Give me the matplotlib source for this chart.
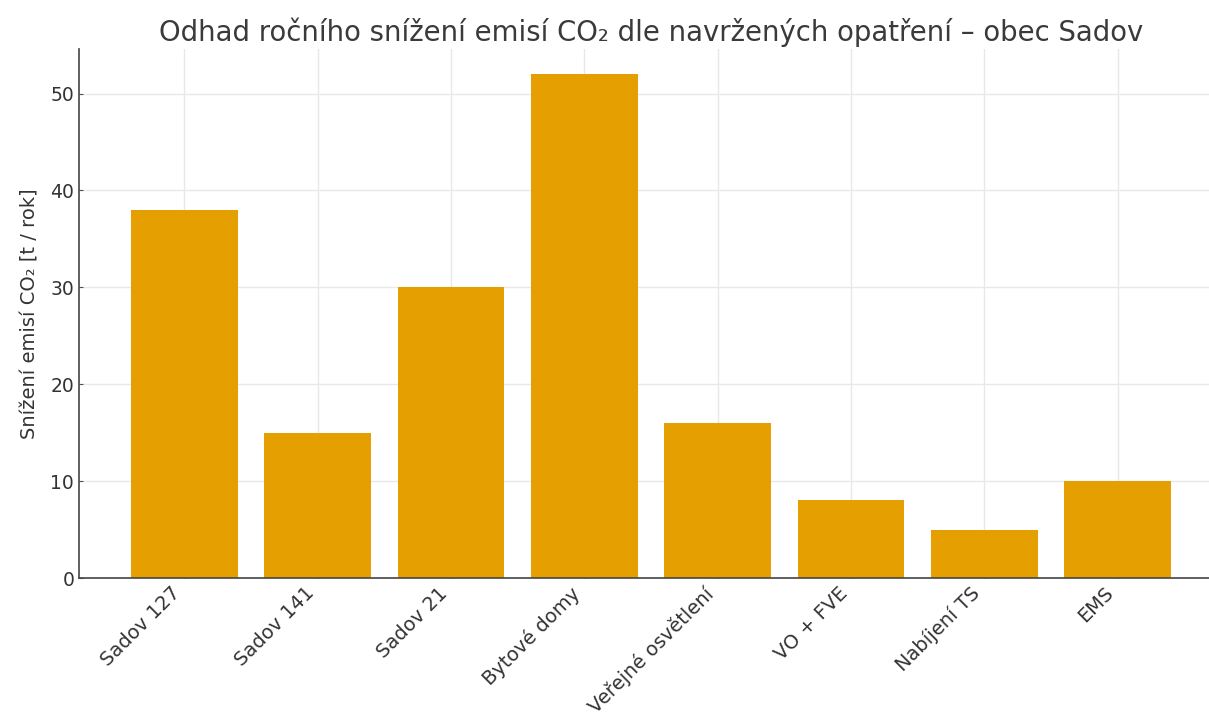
import matplotlib
matplotlib.use("Agg")
import matplotlib.pyplot as plt

categories = ["Sadov 127", "Sadov 141", "Sadov 21", "Bytové domy",
              "Veřejné osvětlení", "VO + FVE", "Nabíjení TS", "EMS"]
reduction = [38, 15, 30, 52, 16, 8, 5, 10]

plt.rcParams['font.family'] = ['DejaVu Sans']

fig = plt.figure(figsize=(12.09, 7.2), dpi=100)
# axes run a little past the right edge (the reference is cropped there)
ax = fig.add_axes([79/1209, 142/720, (1223-79)/1209, (578-49)/720])

x = list(range(len(categories)))
ax.bar(x, reduction, width=0.8, color='#E69F00', zorder=2)

ax.set_xticks(x)
ax.set_xticklabels(categories, rotation=45, ha='right', fontsize=14, color='#333333')
ax.tick_params(axis='y', labelsize=13.5, labelcolor='#333333')
ax.tick_params(direction='in', length=3, color='#555555')
ax.tick_params(axis='x', pad=4)
ax.set_xlim(-0.79, 7.79)
ax.set_ylim(0, 54.6)
ax.set_ylabel("Snížení emisí CO₂ [t / rok]", fontsize=14, color='#333333', labelpad=8)
ax.set_title("Odhad ročního snížení emisí CO₂ dle navržených opatření – obec Sadov",
             fontsize=19.8, color='#3a3a3a', pad=6)

ax.grid(True, color='#e8e8e8', linewidth=1, zorder=0)
ax.set_axisbelow(True)
for s in ['top', 'right']:
    ax.spines[s].set_visible(False)
for s in ['left', 'bottom']:
    ax.spines[s].set_color('#444444')
    ax.spines[s].set_linewidth(1.2)

fig.savefig("out.png", dpi=100)
